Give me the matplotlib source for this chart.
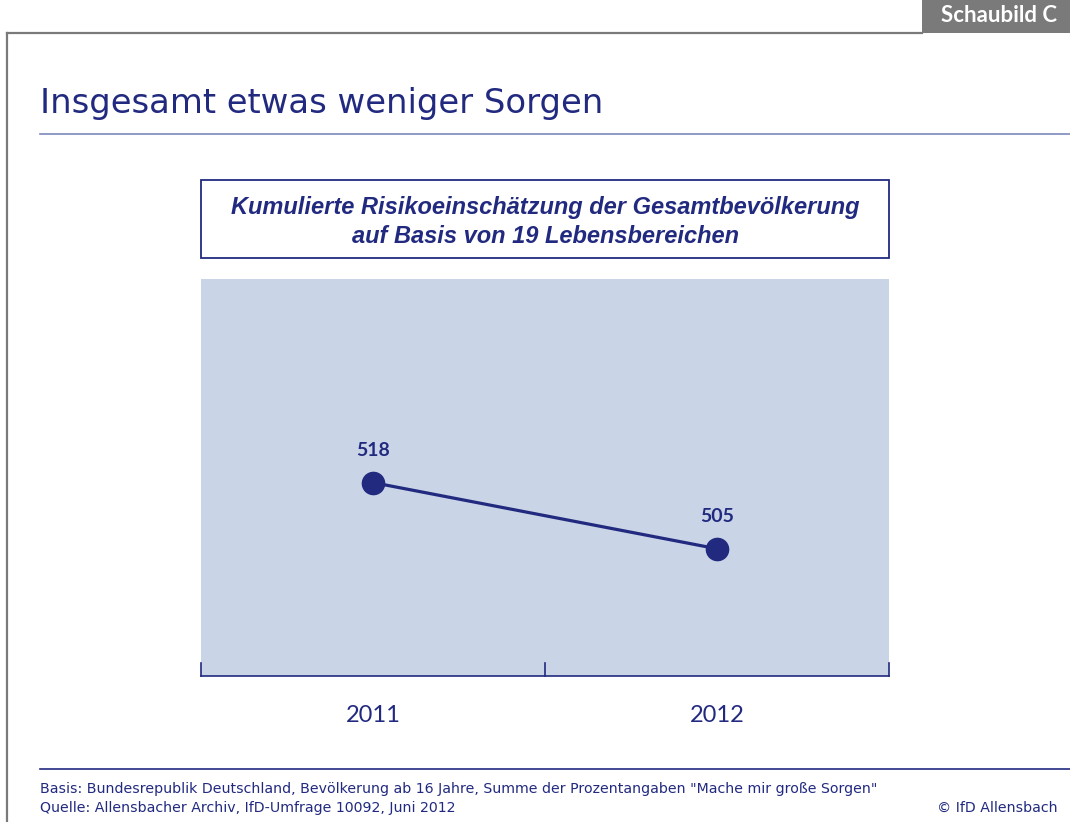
import matplotlib
matplotlib.use("Agg")
import matplotlib.pyplot as plt
from matplotlib.patches import Rectangle
from matplotlib.lines import Line2D

# data
years = ["2011", "2012"]
values = [518, 505]

title = "Insgesamt etwas weniger Sorgen"
subtitle = "Kumulierte Risikoeinschätzung der Gesamtbevölkerung\nauf Basis von 19 Lebensbereichen"
badge = "Schaubild C"
note_basis = 'Basis: Bundesrepublik Deutschland, Bevölkerung ab 16 Jahre, Summe der Prozentangaben "Mache mir große Sorgen"'
note_source = "Quelle: Allensbacher Archiv, IfD-Umfrage 10092, Juni 2012"
copyright_txt = "© IfD Allensbach"

navy = "#222a80"
light_line = "#7d89bd"
panel = "#c9d4e6"
grey = "#7a7a7a"

W, H = 1070, 822
plt.rcParams['font.family'] = ['Lato', 'DejaVu Sans']

fig = plt.figure(figsize=(W / 100, H / 100), dpi=100)
fig.patch.set_facecolor("white")


def fx(px):
    return px / W


def fy(py):
    return 1 - py / H


# outer grey frame and badge
fig.add_artist(Line2D([fx(7), fx(7)], [fy(33), fy(822)], color=grey, lw=1.6))
fig.add_artist(Line2D([fx(7), fx(922)], [fy(33), fy(33)], color=grey, lw=1.6))
fig.add_artist(Rectangle((fx(922), fy(33)), fx(148), 33 / H, color=grey, lw=0))
fig.text(fx(999), fy(16), badge, color="white", fontsize=16, fontweight="bold",
         ha="center", va="center")

# title
fig.text(fx(40), fy(113), title, color=navy, fontsize=24.4, ha="left", va="baseline",
         family=["DejaVu Sans"])
fig.add_artist(Line2D([fx(40), fx(1070)], [fy(134), fy(134)], color=light_line, lw=1.2))

# subtitle box
fig.add_artist(Rectangle((fx(201), fy(258)), fx(688), 78 / H, facecolor="white",
                         edgecolor=navy, lw=1.3))
fig.text(fx(545), fy(222), subtitle, color=navy, fontsize=17, fontweight="bold",
         fontstyle="italic", ha="center", va="center", linespacing=1.28,
         family=["Liberation Sans", "DejaVu Sans"])

# main plot
ax = fig.add_axes([fx(201), fy(676), fx(688), (676 - 279) / H])
ax.set_facecolor(panel)
x = list(range(len(years)))
ax.plot(x, values, color=navy, lw=2.3, marker="o", markersize=16, zorder=3)
for xi, v in zip(x, values):
    ax.annotate(str(v), (xi, v), xytext=(0, 17), textcoords="offset points",
                ha="center", va="bottom", color=navy, fontsize=14, fontweight="bold")
ax.set_xlim(-0.5, len(years) - 0.5)
ax.set_ylim(480, 558)
ax.set_yticks([])
ax.set_xticks([])
for s in ["top", "left", "right"]:
    ax.spines[s].set_visible(False)
ax.spines["bottom"].set_color(navy)
ax.spines["bottom"].set_linewidth(1.2)
# category boundary ticks
for b in [-0.5, 0.5, 1.5]:
    ax.plot([b, b], [480, 482.6], color=navy, lw=1.2, clip_on=False)
for xi, yr in zip(x, years):
    ax.text(xi, -0.1, yr, transform=ax.get_xaxis_transform(), ha="center", va="center",
            color=navy, fontsize=17)

# footer
fig.add_artist(Line2D([fx(40), fx(1070)], [fy(769), fy(769)], color=navy, lw=1.2))
foot = dict(color=navy, fontsize=10.2, va="center", family=["DejaVu Sans"])
fig.text(fx(40), fy(789), note_basis, ha="left", **foot)
fig.text(fx(40), fy(808), note_source, ha="left", **foot)
fig.text(fx(1058), fy(808), copyright_txt, ha="right", **foot)

fig.savefig("out.png", dpi=100)
